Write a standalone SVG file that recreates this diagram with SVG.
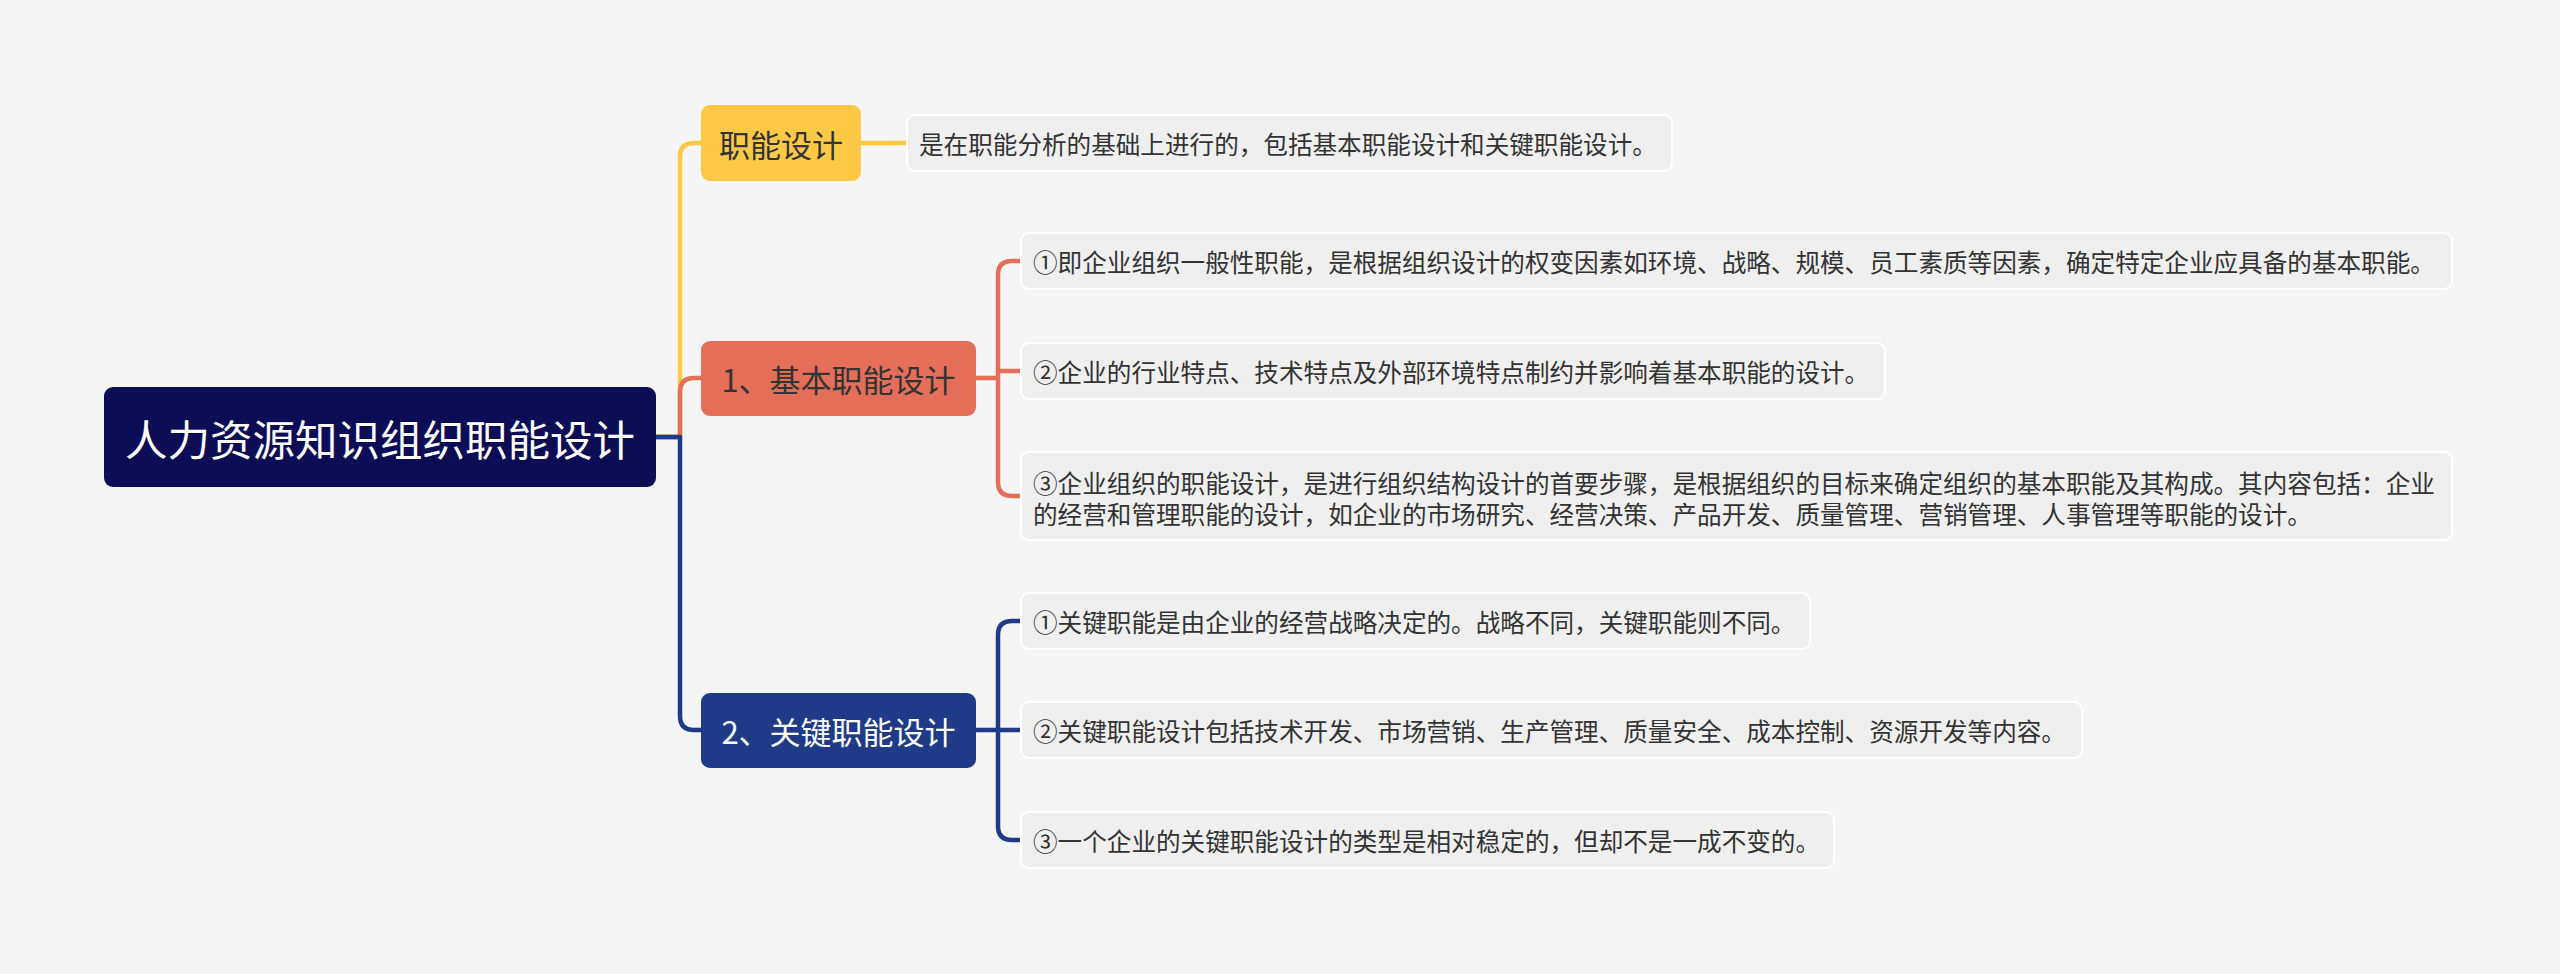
<svg xmlns="http://www.w3.org/2000/svg" width="2560" height="974" viewBox="0 0 2560 974">
<style>
text{font-family:"Noto Sans CJK SC","Noto Sans",sans-serif;dominant-baseline:central}
.leaf rect{fill:#efefef;stroke:#ffffff;stroke-width:2}
.leaf text{font-size:24.6px;fill:#333333}
.br text{font-size:31px;text-anchor:middle}
.c{fill:none;stroke-width:4.5;stroke-linecap:round;stroke-linejoin:round}
.y{stroke:#FDC846}.o{stroke:#E46E58}.b{stroke:#1F3B88}
</style>
<rect width="2560" height="974" fill="#f5f5f5"/>
<g id="connectors">
<path class="c y" d="M656,437 H680 V157 Q680,143 694,143 H701"/>
<path class="c y" d="M861,143 H907"/>
<path class="c o" d="M656,437 H680 V392 Q680,378 694,378 H701"/>
<path class="c o" d="M976,378 H998 M998,378 V275 Q998,261 1012,261 H1021 M998,371 H1021 M998,378 V482 Q998,496 1012,496 H1021"/>
<path class="c b" d="M656,437 H680 V716 Q680,730 694,730 H701"/>
<path class="c b" d="M976,730 H998 M998,730 V635 Q998,621 1012,621 H1021 M998,730 H1021 M998,730 V826 Q998,840 1012,840 H1021"/>
</g>
<g id="root">
<rect x="104" y="387" width="552" height="100" rx="9" fill="#0C0D55"/>
<text x="380" y="437" font-size="42.5" fill="#ffffff" text-anchor="middle">人力资源知识组织职能设计</text>
</g>
<g id="n-zhineng" class="br">
<rect x="701" y="105" width="160" height="76" rx="9" fill="#FDC846"/>
<text x="781" y="143" fill="#333333">职能设计</text>
</g>
<g id="n-jiben" class="br">
<rect x="701" y="341" width="275" height="75" rx="9" fill="#E46E58"/>
<text x="838.5" y="378.5" fill="#333333">1、基本职能设计</text>
</g>
<g id="n-guanjian" class="br">
<rect x="701" y="693" width="275" height="75" rx="9" fill="#1F3B88"/>
<text x="838.5" y="730.5" fill="#ffffff">2、关键职能设计</text>
</g>
<g id="d-zhineng" class="leaf">
<rect x="907" y="115" width="765" height="56" rx="8"/>
<text x="919" y="143">是在职能分析的基础上进行的，包括基本职能设计和关键职能设计。</text>
</g>
<g id="d-jiben-1" class="leaf">
<rect x="1021" y="233" width="1431" height="56" rx="8"/>
<text x="1033" y="261">①即企业组织一般性职能，是根据组织设计的权变因素如环境、战略、规模、员工素质等因素，确定特定企业应具备的基本职能。</text>
</g>
<g id="d-jiben-2" class="leaf">
<rect x="1021" y="343" width="864" height="56" rx="8"/>
<text x="1033" y="371">②企业的行业特点、技术特点及外部环境特点制约并影响着基本职能的设计。</text>
</g>
<g id="d-jiben-3" class="leaf">
<rect x="1021" y="452" width="1431" height="88" rx="8"/>
<text x="1033" y="482">③企业组织的职能设计，是进行组织结构设计的首要步骤，是根据组织的目标来确定组织的基本职能及其构成。其内容包括：企业</text>
<text x="1033" y="513">的经营和管理职能的设计，如企业的市场研究、经营决策、产品开发、质量管理、营销管理、人事管理等职能的设计。</text>
</g>
<g id="d-guanjian-1" class="leaf">
<rect x="1021" y="593" width="789" height="56" rx="8"/>
<text x="1033" y="621">①关键职能是由企业的经营战略决定的。战略不同，关键职能则不同。</text>
</g>
<g id="d-guanjian-2" class="leaf">
<rect x="1021" y="702" width="1061" height="56" rx="8"/>
<text x="1033" y="730">②关键职能设计包括技术开发、市场营销、生产管理、质量安全、成本控制、资源开发等内容。</text>
</g>
<g id="d-guanjian-3" class="leaf">
<rect x="1021" y="812" width="813" height="56" rx="8"/>
<text x="1033" y="840">③一个企业的关键职能设计的类型是相对稳定的，但却不是一成不变的。</text>
</g>
</svg>
